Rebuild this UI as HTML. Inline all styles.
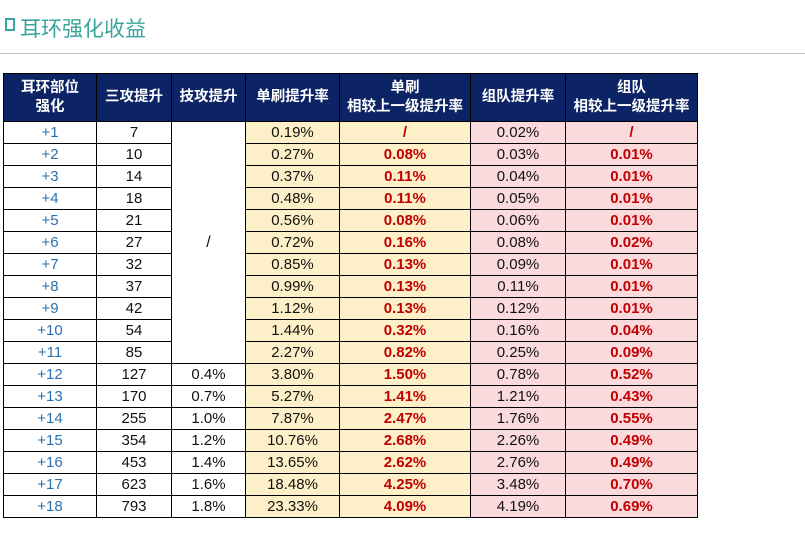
<!DOCTYPE html>
<html><head><meta charset="utf-8">
<style>
body{margin:0;width:805px;height:537px;background:#fff;font-family:"Liberation Sans","Noto Sans CJK SC",sans-serif;position:relative;overflow:hidden}
#title{position:absolute;left:5px;top:13px;font-size:21px;color:#3aa39c;display:flex;align-items:center}
#icon{width:10px;height:13px;border:2px solid #3aa39c;box-sizing:border-box;margin-right:5px;position:relative;top:-4px}
#line{position:absolute;left:0;top:53px;width:805px;height:1px;background:#b9c0c6}
table{position:absolute;left:3px;top:73px;border-collapse:collapse;table-layout:fixed;font-size:15px}
th{background:#0c2466;color:#fff;font-weight:bold;height:47px;border:1px solid #000;font-size:14.5px;line-height:19px;padding:0}
td{height:21px;border:1px solid #000;text-align:center;padding:0;line-height:20px;color:#111}
td.lv{color:#2a6fb0}
td.y{background:#fdf0c8}
td.p{background:#fadadd}
td.r{color:#c00000;font-weight:bold}
</style></head><body>
<div id="title"><span id="icon"></span>耳环强化收益</div>
<div id="line"></div>
<table>
<colgroup><col style="width:93px"><col style="width:75px"><col style="width:74px"><col style="width:94px"><col style="width:131px"><col style="width:95px"><col style="width:132px"></colgroup>
<thead><tr>
<th>耳环部位<br>强化</th>
<th>三攻提升</th>
<th>技攻提升</th>
<th>单刷提升率</th>
<th>单刷<br>相较上一级提升率</th>
<th>组队提升率</th>
<th>组队<br>相较上一级提升率</th>
</tr></thead>
<tbody id="tb"></tbody>
</table>
<script>
const levels=["+1","+2","+3","+4","+5","+6","+7","+8","+9","+10","+11","+12","+13","+14","+15","+16","+17","+18"];
const stats=[7,10,14,18,21,27,32,37,42,54,85,127,170,255,354,453,623,793];
const skills=["/","","","","","","","","","","","0.4%","0.7%","1.0%","1.2%","1.4%","1.6%","1.8%"];
const soloRate=["0.19%","0.27%","0.37%","0.48%","0.56%","0.72%","0.85%","0.99%","1.12%","1.44%","2.27%","3.80%","5.27%","7.87%","10.76%","13.65%","18.48%","23.33%"];
const soloDelta=["/","0.08%","0.11%","0.11%","0.08%","0.16%","0.13%","0.13%","0.13%","0.32%","0.82%","1.50%","1.41%","2.47%","2.68%","2.62%","4.25%","4.09%"];
const teamRate=["0.02%","0.03%","0.04%","0.05%","0.06%","0.08%","0.09%","0.11%","0.12%","0.16%","0.25%","0.78%","1.21%","1.76%","2.26%","2.76%","3.48%","4.19%"];
const teamDelta=["/","0.01%","0.01%","0.01%","0.01%","0.02%","0.01%","0.01%","0.01%","0.04%","0.09%","0.52%","0.43%","0.55%","0.49%","0.49%","0.70%","0.69%"];
const tb=document.getElementById('tb');
function cell(tr,txt,cls,name){const td=document.createElement('td');td.textContent=txt;if(cls)td.className=cls;


tr.appendChild(td);return td;}
levels.forEach((lv,i)=>{
 const tr=document.createElement('tr');
 
 
 cell(tr,lv,'lv','level-cell');
 cell(tr,stats[i],'','stat-cell');
 if(i===0){const c=cell(tr,skills[0],'','skill-cell');c.rowSpan=11;c.style.fontSize='16px';}
 else if(i>=11){cell(tr,skills[i],'','skill-cell');}
 cell(tr,soloRate[i],'y','solo-rate-cell');
 cell(tr,soloDelta[i],'y r','solo-delta-cell');
 cell(tr,teamRate[i],'p','team-rate-cell');
 cell(tr,teamDelta[i],'p r','team-delta-cell');
 tb.appendChild(tr);
});
</script>
</body></html>
